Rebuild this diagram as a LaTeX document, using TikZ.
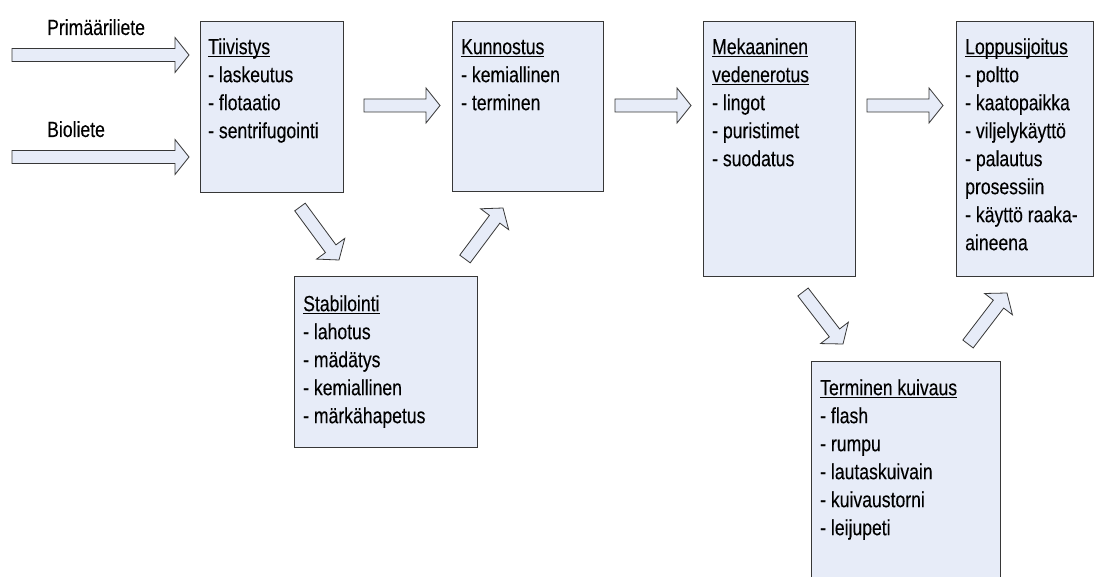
\documentclass[tikz,border=0pt]{standalone}
\usepackage{fontspec}
\setmainfont[FakeStretch=0.8,FakeBold=0.15]{Liberation Sans}
\usetikzlibrary{calc}
\definecolor{boxfill}{RGB}{231,236,248}
\definecolor{boxline}{RGB}{55,55,55}
% underlined heading with a fixed rule position below the baseline
\newcommand\hd[1]{\setbox0=\hbox{#1}\rlap{\rule[-3pt]{\wd0}{0.9pt}}\box0}
% first-line strut so every text block hangs from its first baseline
\newcommand\fl{\rule{0pt}{17pt}}
% hollow block arrow from tail coordinate #1 to tip coordinate #2
\newcommand\blockarrow[2]{%
  \coordinate (ba-h) at ($(#2)!14pt!(#1)$);
  \draw[barrow] ($(#1)!6.5pt!90:(#2)$) -- ($(ba-h)!6.5pt!-90:(#1)$)
    -- ($(ba-h)!17.5pt!-90:(#1)$) -- (#2) -- ($(ba-h)!17.5pt!90:(#1)$)
    -- ($(ba-h)!6.5pt!90:(#1)$) -- ($(#1)!6.5pt!-90:(#2)$) -- cycle;}
\begin{document}
\begin{tikzpicture}[x=1pt,y=-1pt,
  box/.style={draw=boxline, fill=boxfill, line width=0.9pt, inner sep=0pt, anchor=north west},
  txt/.style={anchor=north west, inner sep=0pt, align=left, font=\fontsize{22pt}{28pt}\selectfont},
  lbl/.style={anchor=base west, inner sep=0pt, font=\fontsize{22pt}{28pt}\selectfont},
  barrow/.style={draw=boxline, fill=boxfill, line width=0.8pt, line join=miter}]
\path[use as bounding box, fill=white] (0,0) rectangle (1095,577);

% process boxes
\node[box, minimum width=143pt, minimum height=171pt] (tii) at (200,21) {};
\node[box, minimum width=151pt, minimum height=170pt] (kun) at (452,21) {};
\node[box, minimum width=152pt, minimum height=255pt] (mek) at (703,21) {};
\node[box, minimum width=137pt, minimum height=255pt] (lop) at (956,21) {};
\node[box, minimum width=183pt, minimum height=171pt] (sta) at (294,276) {};
\node[box, minimum width=189pt, minimum height=240pt] (ter) at (811,361) {};

% box texts
\node[txt] (tii-t) at (208,37) {\fl\hd{Tiivistys}\\- laskeutus\\- flotaatio\\- sentrifugointi};
\node[txt] (kun-t) at (461,37) {\fl\hd{Kunnostus}\\- kemiallinen\\- terminen};
\node[txt] (mek-t) at (712,37) {\fl\hd{Mekaaninen}\\\hd{vedenerotus}\\- lingot\\- puristimet\\- suodatus};
\node[txt] (lop-t) at (965,37) {\fl\hd{Loppusijoitus}\\- poltto\\- kaatopaikka\\- viljelykäyttö\\- palautus\\prosessiin\\- käyttö raaka-\\aineena};
\node[txt] (sta-t) at (303,294) {\fl\hd{Stabilointi}\\- lahotus\\- mädätys\\- kemiallinen\\- märkähapetus};
\node[txt] (ter-t) at (820,378) {\fl\hd{Terminen kuivaus}\\- flash\\- rumpu\\- lautaskuivain\\- kuivaustorni\\- leijupeti};

% input labels
\node[lbl] (prim) at (47,35) {Primääriliete};
\node[lbl] (bio) at (47,137) {Bioliete};

% arrow end points
\coordinate (p-in) at (12,55);    \coordinate (p-out) at (tii.west |- 0,55);
\coordinate (b-in) at (12,157);   \coordinate (b-out) at (tii.west |- 0,157);
\coordinate (tk-a) at (364,105.5); \coordinate (tk-b) at (440,105.5);
\coordinate (km-a) at (615,105.5); \coordinate (km-b) at (691,105.5);
\coordinate (ml-a) at (867,105.5); \coordinate (ml-b) at (943,105.5);
\coordinate (ts-a) at (300,207);  \coordinate (ts-b) at (339,260);
\coordinate (sk-a) at (465,259);  \coordinate (sk-b) at (503,208);
\coordinate (mt-a) at (803,292);  \coordinate (mt-b) at (843,344);
\coordinate (tl-a) at (968,344);  \coordinate (tl-b) at (1007,293);
\coordinate (p-tip) at ($(p-out)+(-11,0)$);
\coordinate (b-tip) at ($(b-out)+(-11,0)$);

% block arrows
\blockarrow{p-in}{p-tip}
\blockarrow{b-in}{b-tip}
\blockarrow{tk-a}{tk-b}
\blockarrow{km-a}{km-b}
\blockarrow{ml-a}{ml-b}
\blockarrow{ts-a}{ts-b}
\blockarrow{sk-a}{sk-b}
\blockarrow{mt-a}{mt-b}
\blockarrow{tl-a}{tl-b}
\end{tikzpicture}
\end{document}
